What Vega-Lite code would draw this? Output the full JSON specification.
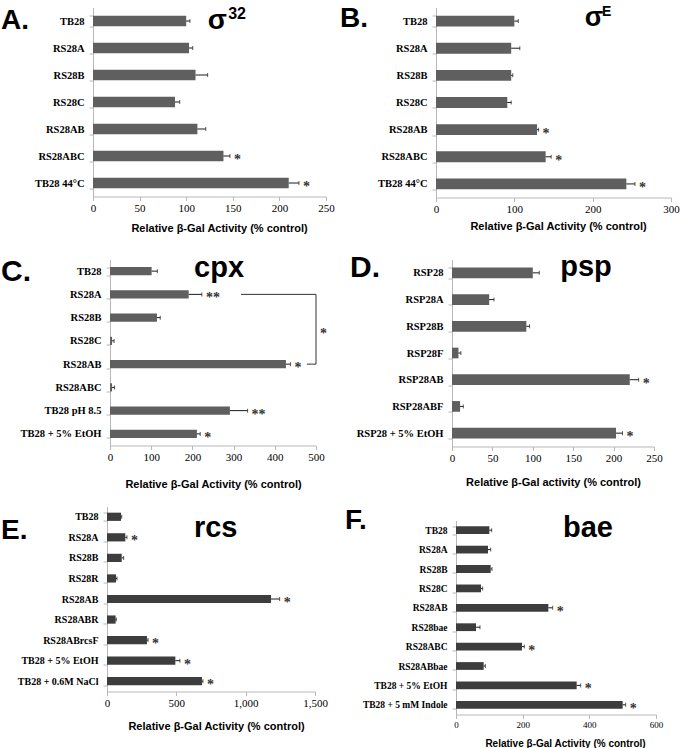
{
  "$schema": "https://vega.github.io/schema/vega-lite/v6.json",
  "padding": {"top": 2.5, "left": 0, "right": 0, "bottom": 0},
  "background": "white",
  "config": {
    "view": {"stroke": null},
    "axis": {"grid": false, "domainColor": "#b8b8b8", "tickColor": "#b8b8b8", "tickSize": 4, "labelColor": "#000", "labelFont": "Liberation Serif", "labelFontSize": 11, "titleFont": "Liberation Sans", "titleFontWeight": "bold", "titleColor": "#000", "titleFontSize": 11},
    "axisY": {"labelFontWeight": "bold", "tickBand": "extent", "labelPadding": 5},
    "axisX": {"labelPadding": 2, "labelFlush": false},
    "text": {"font": "Liberation Sans", "color": "#000"}
  },
  "spacing": 4,
  "hconcat": [
    {
      "spacing": 20,
      "vconcat": [
        {
          "spacing": 0,
          "hconcat": [
            {"width": 1, "height": 1, "data": {"values": [{"a": 1}]}, "mark": {"type": "point", "opacity": 0, "size": 1}, "encoding": {}},
            {
              "width": 233, "height": 189,
              "data": {"values": [
                {"name": "TB28", "value": 100, "err": 104, "sig": ""},
                {"name": "RS28A", "value": 103, "err": 107, "sig": ""},
                {"name": "RS28B", "value": 110, "err": 123, "sig": ""},
                {"name": "RS28C", "value": 88, "err": 93, "sig": ""},
                {"name": "RS28AB", "value": 112, "err": 121, "sig": ""},
                {"name": "RS28ABC", "value": 140, "err": 147, "sig": "*"},
                {"name": "TB28 44°C", "value": 210, "err": 221, "sig": "*"}
              ]},
              "encoding": {
                "y": {"field": "name", "type": "nominal", "scale": {"domain": ["TB28", "RS28A", "RS28B", "RS28C", "RS28AB", "RS28ABC", "TB28 44°C"], "paddingInner": 0.62, "paddingOuter": 0.31}, "axis": {"title": null, "labelFontSize": 10.5}}
              },
              "layer": [
                {"mark": {"type": "bar", "color": "#5f5f5f"}, "encoding": {"x": {"field": "value", "type": "quantitative", "scale": {"domain": [0, 250], "nice": false}, "axis": {"values": [0, 50, 100, 150, 200, 250], "title": "Relative β-Gal Activity (% control)", "titlePadding": 8.5, "titleX": 126}}}},
                {"mark": {"type": "rule", "color": "#1a1a1a"}, "encoding": {"x": {"field": "value", "type": "quantitative"}, "x2": {"field": "err"}}},
                {"mark": {"type": "tick", "color": "#1a1a1a", "thickness": 1, "size": 4, "orient": "vertical"}, "encoding": {"x": {"field": "err", "type": "quantitative"}}},
                {"mark": {"type": "text", "align": "left", "baseline": "middle", "dx": 4, "dy": 4, "fontSize": 14, "fontWeight": "bold", "font": "Liberation Serif", "fill": "#333"}, "encoding": {"x": {"field": "err", "type": "quantitative"}, "text": {"field": "sig"}}},
                {"data": {"values": [{}]}, "mark": {"type": "text", "text": "A.", "align": "left", "baseline": "alphabetic", "dx": -92, "dy": 7.5, "fontSize": 28, "fontWeight": "bold"}, "encoding": {"x": {"datum": 0, "type": "quantitative"}, "y": {"datum": "TB28", "type": "nominal"}}},
                {"data": {"values": [{}]}, "mark": {"type": "text", "text": "σ", "align": "left", "baseline": "alphabetic", "dy": 7.5, "fontSize": 28, "fontWeight": "bold"}, "encoding": {"x": {"datum": 123, "type": "quantitative"}, "y": {"datum": "TB28", "type": "nominal"}}},
                {"data": {"values": [{}]}, "mark": {"type": "text", "text": "32", "align": "left", "baseline": "alphabetic", "dy": -2.5, "fontSize": 16, "fontWeight": "bold"}, "encoding": {"x": {"datum": 145, "type": "quantitative"}, "y": {"datum": "TB28", "type": "nominal"}}}
              ]
            }
          ]
        },
        {
          "spacing": 12,
          "vconcat": [
            {
              "spacing": 0,
              "hconcat": [
                {"width": 1, "height": 1, "data": {"values": [{"a": 1}]}, "mark": {"type": "point", "opacity": 0, "size": 1}, "encoding": {}},
                {
                  "width": 206, "height": 186,
                  "data": {"values": [
                    {"name": "TB28", "value": 101, "err": 115, "sig": ""},
                    {"name": "RS28A", "value": 191, "err": 223, "sig": "**"},
                    {"name": "RS28B", "value": 114, "err": 122, "sig": ""},
                    {"name": "RS28C", "value": 5, "err": 10, "sig": ""},
                    {"name": "RS28AB", "value": 427, "err": 438, "sig": "*"},
                    {"name": "RS28ABC", "value": 5, "err": 11, "sig": ""},
                    {"name": "TB28 pH 8.5", "value": 291, "err": 334, "sig": "**"},
                    {"name": "TB28 + 5% EtOH", "value": 211, "err": 219, "sig": "*"}
                  ]},
                  "encoding": {
                    "y": {"field": "name", "type": "nominal", "scale": {"domain": ["TB28", "RS28A", "RS28B", "RS28C", "RS28AB", "RS28ABC", "TB28 pH 8.5", "TB28 + 5% EtOH"], "paddingInner": 0.65, "paddingOuter": 0.325}, "axis": {"title": null, "labelFontSize": 10.5}}
                  },
                  "layer": [
                    {"mark": {"type": "bar", "color": "#5f5f5f"}, "encoding": {"x": {"field": "value", "type": "quantitative", "scale": {"domain": [0, 500], "nice": false}, "axis": {"values": [0, 100, 200, 300, 400, 500], "title": "Relative β-Gal Activity (% control)", "titlePadding": 15.5}}}},
                    {"mark": {"type": "rule", "color": "#1a1a1a"}, "encoding": {"x": {"field": "value", "type": "quantitative"}, "x2": {"field": "err"}}},
                    {"mark": {"type": "tick", "color": "#1a1a1a", "thickness": 1, "size": 4, "orient": "vertical"}, "encoding": {"x": {"field": "err", "type": "quantitative"}}},
                    {"mark": {"type": "text", "align": "left", "baseline": "middle", "dx": 4, "dy": 4, "fontSize": 14, "fontWeight": "bold", "font": "Liberation Serif", "fill": "#333"}, "encoding": {"x": {"field": "err", "type": "quantitative"}, "text": {"field": "sig"}}},
                    {"data": {"values": [{}]}, "mark": {"type": "rule", "color": "#333"}, "encoding": {"x": {"datum": 318, "type": "quantitative"}, "x2": {"datum": 500}, "y": {"datum": "RS28A", "type": "nominal"}}},
                    {"data": {"values": [{}]}, "mark": {"type": "rule", "color": "#333"}, "encoding": {"x": {"datum": 500, "type": "quantitative"}, "y": {"datum": "RS28A", "type": "nominal"}, "y2": {"datum": "RS28AB"}}},
                    {"data": {"values": [{}]}, "mark": {"type": "rule", "color": "#333"}, "encoding": {"x": {"datum": 478, "type": "quantitative"}, "x2": {"datum": 500}, "y": {"datum": "RS28AB", "type": "nominal"}}},
                    {"data": {"values": [{}]}, "mark": {"type": "text", "text": "*", "align": "left", "baseline": "middle", "dx": 4, "dy": 16, "fontSize": 14, "fontWeight": "bold", "font": "Liberation Serif", "fill": "#333"}, "encoding": {"x": {"datum": 500, "type": "quantitative"}, "y": {"datum": "RS28B", "type": "nominal"}}},
                    {"data": {"values": [{}]}, "mark": {"type": "text", "text": "C.", "align": "left", "baseline": "alphabetic", "dx": -109, "dy": 9.4, "fontSize": 30, "fontWeight": "bold"}, "encoding": {"x": {"datum": 0, "type": "quantitative"}, "y": {"datum": "TB28", "type": "nominal"}}},
                    {"data": {"values": [{}]}, "mark": {"type": "text", "text": "cpx", "align": "left", "baseline": "alphabetic", "dy": 5.4, "fontSize": 29, "fontWeight": "bold"}, "encoding": {"x": {"datum": 204, "type": "quantitative"}, "y": {"datum": "TB28", "type": "nominal"}}}
                  ]
                }
              ]
            },
            {
              "spacing": 0,
              "hconcat": [
                {"width": 1, "height": 1, "data": {"values": [{"a": 1}]}, "mark": {"type": "point", "opacity": 0, "size": 1}, "encoding": {}},
                {
                  "width": 208, "height": 185,
                  "data": {"values": [
                    {"name": "TB28", "value": 101, "err": 106, "sig": ""},
                    {"name": "RS28A", "value": 132, "err": 144, "sig": "*"},
                    {"name": "RS28B", "value": 106, "err": 120, "sig": ""},
                    {"name": "RS28R", "value": 65, "err": 72, "sig": ""},
                    {"name": "RS28AB", "value": 1183, "err": 1245, "sig": "*"},
                    {"name": "RS28ABR", "value": 62, "err": 67, "sig": ""},
                    {"name": "RS28ABrcsF", "value": 288, "err": 296, "sig": "*"},
                    {"name": "TB28 + 5% EtOH", "value": 493, "err": 526, "sig": "*"},
                    {"name": "TB28 + 0.6M NaCl", "value": 685, "err": 692, "sig": "*"}
                  ]},
                  "encoding": {
                    "y": {"field": "name", "type": "nominal", "scale": {"domain": ["TB28", "RS28A", "RS28B", "RS28R", "RS28AB", "RS28ABR", "RS28ABrcsF", "TB28 + 5% EtOH", "TB28 + 0.6M NaCl"], "paddingInner": 0.6, "paddingOuter": 0.3}, "axis": {"title": null, "labelFontSize": 10}}
                  },
                  "layer": [
                    {"mark": {"type": "bar", "color": "#3d3d3d"}, "encoding": {"x": {"field": "value", "type": "quantitative", "scale": {"domain": [0, 1500], "nice": false}, "axis": {"values": [0, 500, 1000, 1500], "title": "Relative β-Gal Activity (% control)", "titlePadding": 11.5, "titleX": 109}}}},
                    {"mark": {"type": "rule", "color": "#1a1a1a"}, "encoding": {"x": {"field": "value", "type": "quantitative"}, "x2": {"field": "err"}}},
                    {"mark": {"type": "tick", "color": "#1a1a1a", "thickness": 1, "size": 4, "orient": "vertical"}, "encoding": {"x": {"field": "err", "type": "quantitative"}}},
                    {"mark": {"type": "text", "align": "left", "baseline": "middle", "dx": 4, "dy": 4, "fontSize": 14, "fontWeight": "bold", "font": "Liberation Serif", "fill": "#333"}, "encoding": {"x": {"field": "err", "type": "quantitative"}, "text": {"field": "sig"}}},
                    {"data": {"values": [{}]}, "mark": {"type": "text", "text": "E.", "align": "left", "baseline": "alphabetic", "dx": -106, "dy": 22.7, "fontSize": 28, "fontWeight": "bold"}, "encoding": {"x": {"datum": 0, "type": "quantitative"}, "y": {"datum": "TB28", "type": "nominal"}}},
                    {"data": {"values": [{}]}, "mark": {"type": "text", "text": "rcs", "align": "left", "baseline": "alphabetic", "dy": 20.7, "fontSize": 29, "fontWeight": "bold"}, "encoding": {"x": {"datum": 627, "type": "quantitative"}, "y": {"datum": "TB28", "type": "nominal"}}}
                  ]
                }
              ]
            }
          ]
        }
      ]
    },
    {
      "spacing": 21,
      "vconcat": [
        {
          "spacing": 0,
          "hconcat": [
            {"width": 1, "height": 1, "data": {"values": [{"a": 1}]}, "mark": {"type": "point", "opacity": 0, "size": 1}, "encoding": {}},
            {
              "width": 235, "height": 190,
              "data": {"values": [
                {"name": "TB28", "value": 100, "err": 105, "sig": ""},
                {"name": "RS28A", "value": 96, "err": 107, "sig": ""},
                {"name": "RS28B", "value": 96, "err": 98, "sig": ""},
                {"name": "RS28C", "value": 91, "err": 96, "sig": ""},
                {"name": "RS28AB", "value": 129, "err": 131, "sig": "*"},
                {"name": "RS28ABC", "value": 140, "err": 147, "sig": "*"},
                {"name": "TB28 44°C", "value": 243, "err": 254, "sig": "*"}
              ]},
              "encoding": {
                "y": {"field": "name", "type": "nominal", "scale": {"domain": ["TB28", "RS28A", "RS28B", "RS28C", "RS28AB", "RS28ABC", "TB28 44°C"], "paddingInner": 0.6, "paddingOuter": 0.3}, "axis": {"title": null, "labelFontSize": 10.5}}
              },
              "layer": [
                {"mark": {"type": "bar", "color": "#5f5f5f"}, "encoding": {"x": {"field": "value", "type": "quantitative", "scale": {"domain": [0, 300], "nice": false}, "axis": {"values": [0, 100, 200, 300], "title": "Relative β-Gal Activity (% control)", "titlePadding": 5.5, "titleX": 122}}}},
                {"mark": {"type": "rule", "color": "#1a1a1a"}, "encoding": {"x": {"field": "value", "type": "quantitative"}, "x2": {"field": "err"}}},
                {"mark": {"type": "tick", "color": "#1a1a1a", "thickness": 1, "size": 4, "orient": "vertical"}, "encoding": {"x": {"field": "err", "type": "quantitative"}}},
                {"mark": {"type": "text", "align": "left", "baseline": "middle", "dx": 4, "dy": 4, "fontSize": 14, "fontWeight": "bold", "font": "Liberation Serif", "fill": "#333"}, "encoding": {"x": {"field": "err", "type": "quantitative"}, "text": {"field": "sig"}}},
                {"data": {"values": [{}]}, "mark": {"type": "text", "text": "B.", "align": "left", "baseline": "alphabetic", "dx": -96, "dy": 6.4, "fontSize": 28, "fontWeight": "bold"}, "encoding": {"x": {"datum": 0, "type": "quantitative"}, "y": {"datum": "TB28", "type": "nominal"}}},
                {"data": {"values": [{}]}, "mark": {"type": "text", "text": "σ", "align": "left", "baseline": "alphabetic", "dy": 5.4, "fontSize": 27, "fontWeight": "bold"}, "encoding": {"x": {"datum": 190, "type": "quantitative"}, "y": {"datum": "TB28", "type": "nominal"}}},
                {"data": {"values": [{}]}, "mark": {"type": "text", "text": "E", "align": "left", "baseline": "alphabetic", "dy": -5.5, "fontSize": 14, "fontWeight": "bold"}, "encoding": {"x": {"datum": 212, "type": "quantitative"}, "y": {"datum": "TB28", "type": "nominal"}}}
              ]
            }
          ]
        },
        {
          "spacing": 19,
          "vconcat": [
            {
              "spacing": 0,
              "hconcat": [
                {"width": 11, "height": 1, "data": {"values": [{"a": 1}]}, "mark": {"type": "point", "opacity": 0, "size": 1}, "encoding": {}},
                {
                  "width": 202, "height": 187,
                  "data": {"values": [
                    {"name": "RSP28", "value": 100, "err": 108, "sig": ""},
                    {"name": "RSP28A", "value": 46, "err": 52, "sig": ""},
                    {"name": "RSP28B", "value": 92, "err": 96, "sig": ""},
                    {"name": "RSP28F", "value": 8, "err": 11, "sig": ""},
                    {"name": "RSP28AB", "value": 220, "err": 231, "sig": "*"},
                    {"name": "RSP28ABF", "value": 10, "err": 14, "sig": ""},
                    {"name": "RSP28 + 5% EtOH", "value": 203, "err": 211, "sig": "*"}
                  ]},
                  "encoding": {
                    "y": {"field": "name", "type": "nominal", "scale": {"domain": ["RSP28", "RSP28A", "RSP28B", "RSP28F", "RSP28AB", "RSP28ABF", "RSP28 + 5% EtOH"], "paddingInner": 0.6, "paddingOuter": 0.3}, "axis": {"title": null, "labelFontSize": 10.5}}
                  },
                  "layer": [
                    {"mark": {"type": "bar", "color": "#5f5f5f"}, "encoding": {"x": {"field": "value", "type": "quantitative", "scale": {"domain": [0, 250], "nice": false}, "axis": {"values": [0, 50, 100, 150, 200, 250], "title": "Relative β-Gal activity (% control)", "titlePadding": 12.5}}}},
                    {"mark": {"type": "rule", "color": "#1a1a1a"}, "encoding": {"x": {"field": "value", "type": "quantitative"}, "x2": {"field": "err"}}},
                    {"mark": {"type": "tick", "color": "#1a1a1a", "thickness": 1, "size": 4, "orient": "vertical"}, "encoding": {"x": {"field": "err", "type": "quantitative"}}},
                    {"mark": {"type": "text", "align": "left", "baseline": "middle", "dx": 4, "dy": 4, "fontSize": 14, "fontWeight": "bold", "font": "Liberation Serif", "fill": "#333"}, "encoding": {"x": {"field": "err", "type": "quantitative"}, "text": {"field": "sig"}}},
                    {"data": {"values": [{}]}, "mark": {"type": "text", "text": "D.", "align": "left", "baseline": "alphabetic", "dx": -102, "dy": 4.6, "fontSize": 30, "fontWeight": "bold"}, "encoding": {"x": {"datum": 0, "type": "quantitative"}, "y": {"datum": "RSP28", "type": "nominal"}}},
                    {"data": {"values": [{}]}, "mark": {"type": "text", "text": "psp", "align": "left", "baseline": "alphabetic", "dy": 3.6, "fontSize": 29, "fontWeight": "bold"}, "encoding": {"x": {"datum": 134, "type": "quantitative"}, "y": {"datum": "RSP28", "type": "nominal"}}}
                  ]
                }
              ]
            },
            {
              "spacing": 0,
              "hconcat": [
                {"width": 6, "height": 1, "data": {"values": [{"a": 1}]}, "mark": {"type": "point", "opacity": 0, "size": 1}, "encoding": {}},
                {
                  "width": 200, "height": 194,
                  "data": {"values": [
                    {"name": "TB28", "value": 100, "err": 107, "sig": ""},
                    {"name": "RS28A", "value": 96, "err": 104, "sig": ""},
                    {"name": "RS28B", "value": 104, "err": 108, "sig": ""},
                    {"name": "RS28C", "value": 75, "err": 80, "sig": ""},
                    {"name": "RS28AB", "value": 277, "err": 290, "sig": "*"},
                    {"name": "RS28bae", "value": 60, "err": 72, "sig": ""},
                    {"name": "RS28ABC", "value": 198, "err": 205, "sig": "*"},
                    {"name": "RS28ABbae", "value": 83, "err": 88, "sig": ""},
                    {"name": "TB28 + 5% EtOH", "value": 362, "err": 374, "sig": "*"},
                    {"name": "TB28 + 5 mM Indole", "value": 500, "err": 509, "sig": "*"}
                  ]},
                  "encoding": {
                    "y": {"field": "name", "type": "nominal", "scale": {"domain": ["TB28", "RS28A", "RS28B", "RS28C", "RS28AB", "RS28bae", "RS28ABC", "RS28ABbae", "TB28 + 5% EtOH", "TB28 + 5 mM Indole"], "paddingInner": 0.6, "paddingOuter": 0.3}, "axis": {"title": null, "labelFontSize": 9.5}}
                  },
                  "layer": [
                    {"mark": {"type": "bar", "color": "#3d3d3d"}, "encoding": {"x": {"field": "value", "type": "quantitative", "scale": {"domain": [0, 600], "nice": false}, "axis": {"values": [0, 200, 400, 600], "labelFontSize": 9, "titleFontSize": 10, "title": "Relative β-Gal Activity (% control)", "titlePadding": 8.7, "titleX": 109}}}},
                    {"mark": {"type": "rule", "color": "#1a1a1a"}, "encoding": {"x": {"field": "value", "type": "quantitative"}, "x2": {"field": "err"}}},
                    {"mark": {"type": "tick", "color": "#1a1a1a", "thickness": 1, "size": 4, "orient": "vertical"}, "encoding": {"x": {"field": "err", "type": "quantitative"}}},
                    {"mark": {"type": "text", "align": "left", "baseline": "middle", "dx": 4, "dy": 4, "fontSize": 14, "fontWeight": "bold", "font": "Liberation Serif", "fill": "#333"}, "encoding": {"x": {"field": "err", "type": "quantitative"}, "text": {"field": "sig"}}},
                    {"data": {"values": [{}]}, "mark": {"type": "text", "text": "F.", "align": "left", "baseline": "alphabetic", "dx": -111, "dy": -1.7, "fontSize": 28, "fontWeight": "bold"}, "encoding": {"x": {"datum": 0, "type": "quantitative"}, "y": {"datum": "TB28", "type": "nominal"}}},
                    {"data": {"values": [{}]}, "mark": {"type": "text", "text": "bae", "align": "left", "baseline": "alphabetic", "dy": 6.3, "fontSize": 29, "fontWeight": "bold"}, "encoding": {"x": {"datum": 321, "type": "quantitative"}, "y": {"datum": "TB28", "type": "nominal"}}}
                  ]
                }
              ]
            }
          ]
        }
      ]
    }
  ]
}
